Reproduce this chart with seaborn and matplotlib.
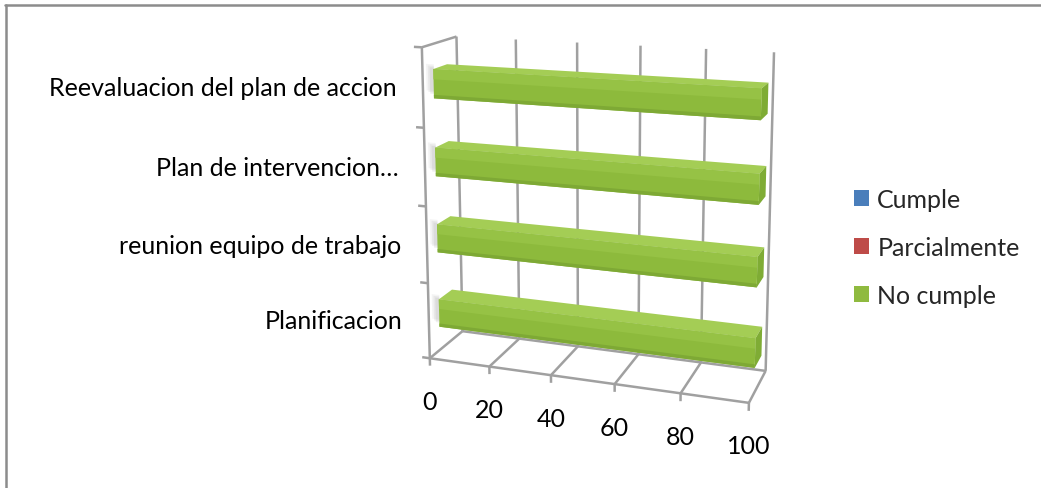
import numpy as np
import pandas as pd
import matplotlib
matplotlib.use("Agg")
import matplotlib.pyplot as plt
from matplotlib.transforms import Transform, Affine2D, offset_copy
from matplotlib.lines import Line2D
from matplotlib.patches import Polygon, Rectangle
import seaborn as sns

# ---- data -------------------------------------------------------------
categories = ["Reevaluacion del plan de accion", "Plan de intervencion…",
              "reunion equipo de trabajo", "Planificacion"]
series = ["Cumple", "Parcialmente", "No cumple"]
cumple = [0, 0, 0, 0]
parcialmente = [0, 0, 0, 0]
no_cumple = [100, 100, 100, 100]
value_ticks = [0, 20, 40, 60, 80, 100]
series_colors = ["#4A7EBB", "#BE4B48", "#8FBA3F"]

df = pd.DataFrame({
    "categoria": categories * 3,
    "serie": np.repeat(series, len(categories)),
    "valor": cumple + parcialmente + no_cumple,
})

# ---- figure / style ---------------------------------------------------
W, H = 1041, 489
sns.set_style("white")
plt.rcParams["font.family"] = ["Lato", "DejaVu Sans"]
FS = 18
fig = plt.figure(figsize=(W / 100, H / 100), dpi=100)
ax = fig.add_axes([0, 0, 1, 1])

# ---- perspective camera for the 3-D frame -----------------------------
# box coordinates: value (0..100), height (0..4 category slots), depth (0 front .. 1 back)
frame_anchors = [
    ((0, 0, 0), (432, 357)), ((20, 0, 0), (490, 367)), ((40, 0, 0), (552, 377)),
    ((60, 0, 0), (615, 387)), ((80, 0, 0), (680, 395)), ((100, 0, 0), (748, 403)),
    ((0, 0, 1), (460, 333)), ((100, 0, 1), (767, 371)),
    ((0, 4, 1), (457, 38)), ((20, 4, 1), (517, 40)), ((60, 4, 1), (642, 47)),
    ((100, 4, 1), (772, 53)),
    ((0, 4, 0), (422, 48)), ((0, 2, 0), (423, 208)),
]
N_SLOTS = len(categories)


def fit_camera(anchors):
    rows = []
    for (v, h, d), (u, y) in anchors:
        X = np.array([v / 100, h / N_SLOTS, d, 1.0])
        un, yn = u / W, y / H
        rows.append(np.r_[X, np.zeros(4), -un * X])
        rows.append(np.r_[np.zeros(4), X, -yn * X])
    _, _, vt = np.linalg.svd(np.array(rows))
    return vt[-1].reshape(3, 4)


CAM = fit_camera(frame_anchors)


class Plane(Transform):
    """Projects a 2-D plane of the 3-D box (one coordinate held fixed)."""
    input_dims = output_dims = 2

    def __init__(self, fixed, value):
        super().__init__()
        self.fixed, self.value = fixed, value

    def transform_non_affine(self, pts):
        pts = np.asarray(pts, float).reshape(-1, 2)
        a, b = pts[:, 0], pts[:, 1]
        k = np.full_like(a, self.value)
        if self.fixed == "d":
            v, h, d = a, b, k
        elif self.fixed == "h":
            v, h, d = a, k, b
        else:
            v, h, d = k, a, b
        X = np.c_[v / 100, h / N_SLOTS, d, np.ones_like(a)]
        q = X @ CAM.T
        return q[:, :2] / q[:, 2:3]


to_fig = Affine2D().scale(1, -1).translate(0, 1) + fig.transFigure


def plane(fixed, value):
    return Plane(fixed, value) + to_fig


# category index -> slot height (first category at the top)
cat_to_h = Affine2D().scale(1, -1).translate(0, N_SLOTS - 0.5)

# ---- bars -------------------------------------------------------------
BAR_FRONT, BAR_BACK = 0.3, 0.7
sns.barplot(data=df, x="valor", y="categoria", hue="serie", order=categories,
            hue_order=series, palette=series_colors, saturation=1, dodge=False,
            width=0.37, orient="h", errorbar=None, linewidth=0, ax=ax)

front = cat_to_h + plane("d", BAR_FRONT)
bars = [p for p in ax.patches]
for p in bars:
    p.set_transform(front)
    p.set_zorder(3)
    if p.get_width() <= 0:
        continue
    x0, w = p.get_x(), p.get_width()
    c0, ch = p.get_y(), p.get_height()
    h_top = N_SLOTS - 0.5 - c0
    h_bot = N_SLOTS - 0.5 - (c0 + ch)
    p.set_facecolor("#8DBA3C")
    # soft shadow cast on the left wall
    for k, a in enumerate([0.08, 0.10, 0.12]):
        ax.add_patch(Rectangle((x0 - 2.4 + k * 0.6, c0 - 0.06 + k * 0.02),
                               2.6 - k * 0.6, ch * 0.9, facecolor="#7F7F7F",
                               alpha=a, edgecolor="none", transform=front, zorder=1.5))
    # top face
    ax.add_patch(Polygon([(x0, BAR_FRONT), (x0 + w, BAR_FRONT), (x0 + w, BAR_BACK),
                          (x0, BAR_BACK)], closed=True, facecolor="#A4CD55",
                         edgecolor="none", transform=plane("h", h_top), zorder=2))
    # end cap
    ax.add_patch(Polygon([(h_bot, BAR_FRONT), (h_top, BAR_FRONT), (h_top, BAR_BACK),
                          (h_bot, BAR_BACK)], closed=True, facecolor="#7FAC35",
                         edgecolor="none", transform=plane("v", x0 + w), zorder=2))
    # front-face shading bands
    ax.add_patch(Rectangle((x0, c0), w, ch * 0.35, facecolor="#96C245",
                           edgecolor="none", transform=front, zorder=3.2))
    ax.add_patch(Rectangle((x0, c0 + ch * 0.88), w, ch * 0.12, facecolor="#7EA935",
                           edgecolor="none", transform=front, zorder=3.2))

# ---- 3-D frame --------------------------------------------------------
GRID = dict(color="#A0A0A0", lw=1.8, solid_capstyle="butt", zorder=1)


def seg(tr, xs, ys):
    ax.add_line(Line2D(xs, ys, transform=tr, **GRID))


back = plane("d", 1)
floor = plane("h", 0)
left_front = plane("d", 0)
for v in value_ticks:
    seg(back, [v, v], [0, N_SLOTS])
    seg(floor, [v, v], [0, 1])
    seg(left_front, [v, v], [0, -0.1])
seg(floor, [0, 100], [0, 0])
seg(floor, [0, 100], [1, 1])
seg(left_front, [0, 0], [0, N_SLOTS])
seg(plane("h", N_SLOTS), [0, 0], [0, 1])
for k in range(N_SLOTS + 1):
    seg(left_front, [0, -2.6], [k, k])

# ---- labels -----------------------------------------------------------
tick_tr = offset_copy(left_front, fig=fig, x=0, y=-43, units="dots")
for v in value_ticks:
    ax.text(v, 0, str(v), transform=tick_tr, ha="center", va="center",
            fontsize=FS, color="black")

cat_tr = offset_copy(left_front, fig=fig, x=-26, y=0, units="dots")
for i, name in enumerate(categories):
    ax.text(0, N_SLOTS - 0.5 - i, name, transform=cat_tr, ha="right",
            va="center", fontsize=FS, color="black")

ax.set_axis_off()
sns.move_legend(ax, "center left", bbox_to_anchor=(0.820, 0.492), frameon=False,
                title=None, fontsize=FS, handlelength=0.6, handleheight=0.6,
                handletextpad=0.35, labelspacing=1.0, borderpad=0,
                borderaxespad=0)

# chart-area border
BORDER = dict(color="#8C8C8C", lw=1.8, transform=fig.transFigure)
fig.add_artist(Line2D([5 / W, 1], [1 - 5.5 / H, 1 - 5.5 / H], **BORDER))
fig.add_artist(Line2D([6 / W, 6 / W], [0, 1 - 5.5 / H], **BORDER))

fig.savefig("out.png", dpi=100)
